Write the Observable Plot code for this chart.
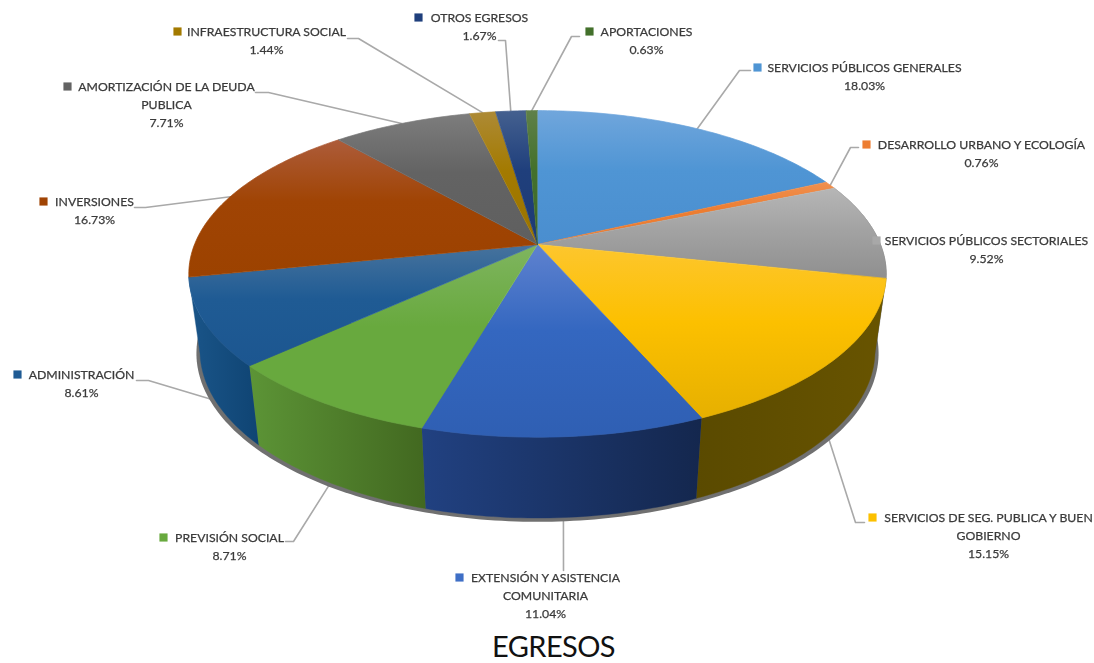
<!DOCTYPE html>
<html><head><meta charset="utf-8">
<script src="https://cdn.jsdelivr.net/npm/d3@7"></script>
<script src="https://cdn.jsdelivr.net/npm/@observablehq/plot@0.6"></script>
<style>
html,body{margin:0;padding:0;background:#fff;overflow:hidden}
#chart svg{display:block;background:#fff;filter:blur(.35px)}
#title{font:29px Lato,sans-serif;letter-spacing:-.6px;color:#111;text-align:center;line-height:35px;height:35px;width:1107px}
</style></head><body><div id="chart"></div><div id="title">EGRESOS</div>
<script>
// DATA
const categories = ["SERVICIOS PÚBLICOS GENERALES","DESARROLLO URBANO Y ECOLOGÍA","SERVICIOS PÚBLICOS SECTORIALES","SERVICIOS DE SEG. PUBLICA Y BUEN GOBIERNO","EXTENSIÓN Y ASISTENCIA COMUNITARIA","PREVISIÓN SOCIAL","ADMINISTRACIÓN","INVERSIONES","AMORTIZACIÓN DE LA DEUDA PUBLICA","INFRAESTRUCTURA SOCIAL","OTROS EGRESOS","APORTACIONES"];
const values = [18.03,0.76,9.52,15.15,11.04,8.71,8.61,16.73,7.71,1.44,1.67,0.63];
const labelLines = [["SERVICIOS PÚBLICOS GENERALES"],["DESARROLLO URBANO Y ECOLOGÍA"],["SERVICIOS PÚBLICOS SECTORIALES"],["SERVICIOS DE SEG. PUBLICA Y BUEN","GOBIERNO"],["EXTENSIÓN Y ASISTENCIA","COMUNITARIA"],["PREVISIÓN SOCIAL"],["ADMINISTRACIÓN"],["INVERSIONES"],["AMORTIZACIÓN DE LA DEUDA","PUBLICA"],["INFRAESTRUCTURA SOCIAL"],["OTROS EGRESOS"],["APORTACIONES"]];

// STYLE
const topColors = ["#70a6dc","#f0904f","#b6b6b6","#fdc62e","#5f82cf","#7fb55f","#47739d","#ad5c3a","#7d7d7d","#ad8a35","#44608f","#5f8049"];
const midColors = ["#4f95d4","#ed7d31","#a3a3a3","#fcc000","#3467c0","#68a93e","#1f5b94","#a04404","#636363","#a37a00","#1f3f7c","#43702b"];
const botColors = ["#4a8ecf","#ed7d31","#8f8f8f","#e6b000","#2f5fb3","#68a93e","#1c5690","#9c4200","#5f5f5f","#9a7300","#1e3a74","#3f682a"];
const sideA = {2:"#636363",3:"#5a4a00",4:"#214181",5:"#5c9436",6:"#1a5589"};
const sideB = {2:"#636363",3:"#685400",4:"#14274e",5:"#426820",6:"#0f4473"};
const swatchColors = ["#4f95d4","#ed7d31","#a8a8a8","#fcc000","#3f6fc6","#68a93e","#1f5b94","#a04404","#636363","#a37a00","#1f3f7c","#43702b"];

// LABEL LAYOUT (text block centre x, first line y, swatch x)
const labelCx = [864,981,986,988,545,229,81,94,166,266,479,646];
const labelY  = [68,145,241,518,578,538,375,202,87,32,18,32];
const swatchX = [757,866,876,872,459,163,17,43,67,177,418,589];
// leader elbows, nulls for no leader: [elbow x, elbow y, end x]
const elbows = [[739,70,750],[850,147,858],null,[855,522,864],[563,570,563],[293,541,285],[148,380,136],[145,207,134],[268,92,255],[358,38,347],[505,40,498],[571,36,579]];

const W=1094, H=628;
// Perspective projection of the pie's top and bottom discs
const k=0.18, cx=537;
const topDisc={cy:244,A:343,B:158}, botDisc={cy:320,A:332,B:162}, shadowDisc={cy:322.5,A:335.5,B:163};
const proj=(d,t)=>{const w=1+k*Math.cos(t);return [cx+d.A*Math.sin(t)/w,d.cy-d.B*Math.cos(t)/w];};
const arcs=d3.pie().sort(null)(values);
const step=Math.PI/180;
const arcAngles=(a,b)=>{const n=Math.max(2,Math.ceil((b-a)/step));return d3.range(n+1).map(i=>a+(b-a)*i/n);};
const rows=p=>p.map(([x,y])=>({x,y}));

const faces=arcs.map(a=>rows([[cx,topDisc.cy],...arcAngles(a.startAngle,a.endAngle).map(t=>proj(topDisc,t))]));
// only the slices on the near side show a wall
const walls=arcs.map((a,i)=>{
  if(!(i in sideA))return null;
  const ts=arcAngles(a.startAngle,a.endAngle);
  return {i,pts:rows([...ts.map(t=>proj(topDisc,t)),...ts.slice().reverse().map(t=>proj(botDisc,t))])};
}).filter(Boolean);
const shadow=rows(d3.range(90,271,1).map(t=>proj(shadowDisc,t*Math.PI/180)));

const leaders=arcs.flatMap((a,i)=>{
  if(!elbows[i])return [];
  const mid=(a.startAngle+a.endAngle)/2;
  const start=proj(Math.cos(mid)>0?topDisc:botDisc,mid);
  const [ex,ey,endx]=elbows[i];
  return [start,[ex,ey],[endx,ey]].map(([x,y])=>({x,y,i}));
});
const fmt=v=>v.toFixed(2)+"%";
const texts=labelLines.flatMap((ls,i)=>[...ls,fmt(values[i])].map((t,j)=>({t,x:labelCx[i],y:labelY[i]+j*17.6})));
const swatches=labelY.map((y,i)=>({x:swatchX[i],y:y-1,c:swatchColors[i]}));

const defs=()=>{
  const d=d3.create("svg:defs");
  values.forEach((_,i)=>{
    const g=d.append("linearGradient").attr("id","top"+i).attr("x1",0).attr("x2",0).attr("y1",0).attr("y2",1);
    [[0,topColors[i]],[.45,midColors[i]],[1,botColors[i]]].forEach(([o,c])=>g.append("stop").attr("offset",o).attr("stop-color",c));
    if(i in sideA){
      const s=d.append("linearGradient").attr("id","side"+i);
      [[0,sideA[i]],[1,sideB[i]]].forEach(([o,c])=>s.append("stop").attr("offset",o).attr("stop-color",c));
    }
  });
  return d.node();
};

const plot=Plot.plot({
  width:W,height:H,margin:0,
  x:{domain:[0,W],range:[0,W],axis:null},
  y:{domain:[0,H],range:[0,H],axis:null},
  marks:[
    defs,
    Plot.line(leaders,{x:"x",y:"y",z:"i",stroke:"#a9a9a9",strokeWidth:1.6}),
    Plot.line(shadow,{x:"x",y:"y",fill:"#707070",stroke:"none"}),
    ...walls.map(w=>Plot.line(w.pts,{x:"x",y:"y",fill:`url(#side${w.i})`,stroke:`url(#side${w.i})`,strokeWidth:.4})),
    ...faces.map((f,i)=>Plot.line(f,{x:"x",y:"y",fill:`url(#top${i})`,stroke:`url(#top${i})`,strokeWidth:.7})),
    Plot.dot(swatches,{x:"x",y:"y",symbol:"square",r:4.6,fill:"c"}),
    Plot.text(texts,{x:"x",y:"y",text:"t",fontFamily:"Lato",fontSize:12.25,fill:"#3a3a3a",stroke:"#3a3a3a",strokeWidth:.25,textAnchor:"middle"})
  ]
});
document.getElementById("chart").appendChild(plot);
</script></body></html>
